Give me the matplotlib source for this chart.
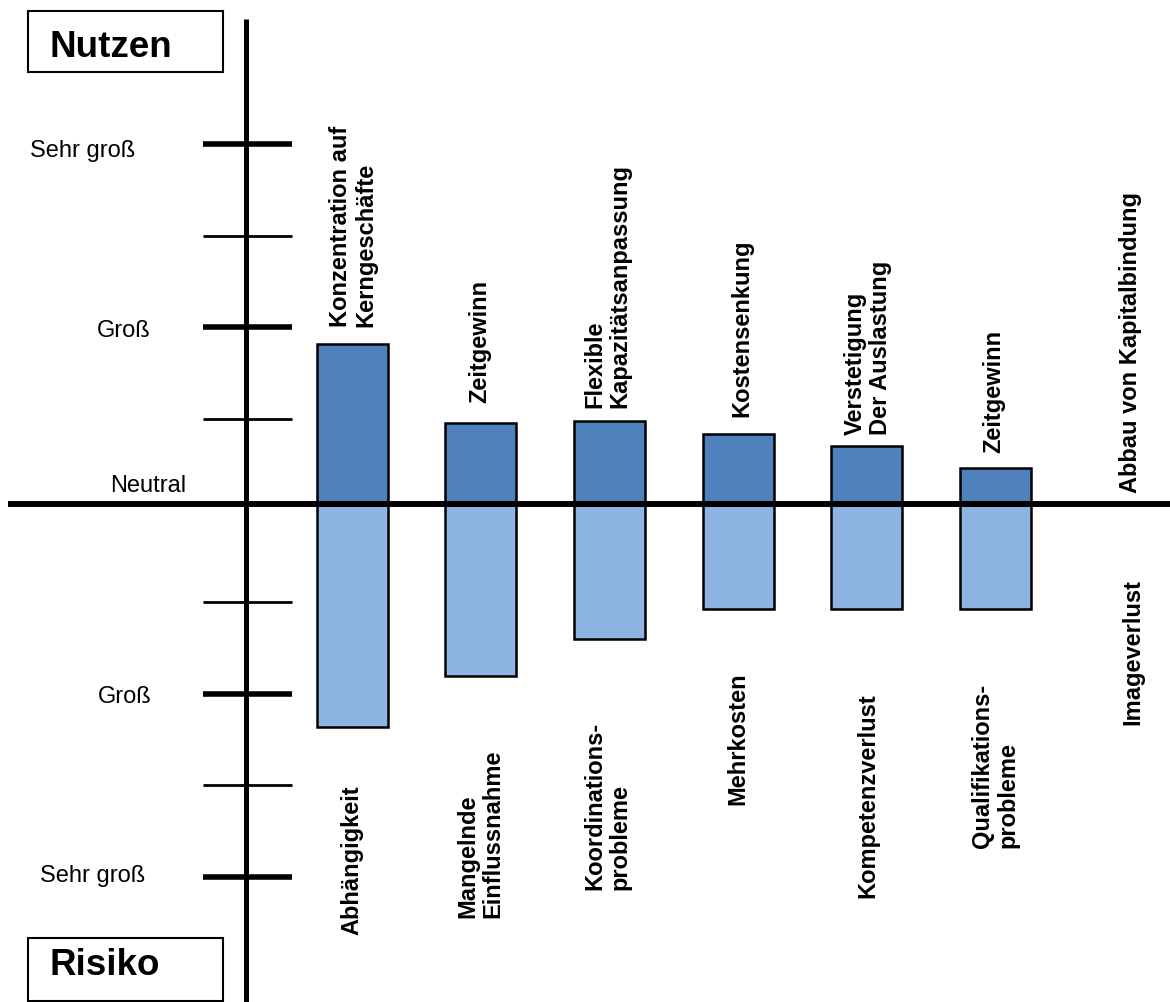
import matplotlib
matplotlib.use("Agg")
import matplotlib.pyplot as plt
from matplotlib.patches import Rectangle

# ---------------- data ----------------
nutzen_labels = ["Konzentration auf\nKerngeschäfte", "Zeitgewinn",
                 "Flexible\nKapazitätsanpassung", "Kostensenkung",
                 "Verstetigung\nDer Auslastung", "Zeitgewinn",
                 "Abbau von Kapitalbindung"]
risiko_labels = ["Abhängigkeit", "Mangelnde\nEinflussnahme",
                 "Koordinations-\nprobleme", "Mehrkosten",
                 "Kompetenzverlust", "Qualifikations-\nprobleme",
                 "Imageverlust"]
nutzen_values = [1.75, 0.885, 0.905, 0.765, 0.635, 0.395]
risiko_values = [2.43, 1.88, 1.475, 1.15, 1.15, 1.15]
level_labels = ["Sehr groß", "Groß", "Neutral", "Groß", "Sehr groß"]
level_values = [4, 2, 0, -2, -4]
tick_values_major = [4, 2, -2, -4]
tick_values_minor = [3, 1, -1, -3]

# ---------------- layout ----------------
W, H = 1170, 1003
Y0, STEP = 505.0, 91.6
X0, XS = 352.0, 128.7
TICK_OFFSET = (505.0 - 511.5) / STEP  # tick grid drawn slightly below the axis line


def dx(px):
    return (px - X0) / XS


def dy(py):
    return (Y0 - py) / STEP


FONT = "Liberation Sans"
top_label_pos = [(353, 327), (480, 403), (607, 408), (742, 417), (868, 435), (994, 453), (1131, 493)]
bottom_label_pos = [(352, 935), (480, 918), (607, 890), (738, 805), (868, 898), (995, 848), (1133, 725)]
level_label_pos = [(30, 157), (97, 337), (110, 492), (98, 703), (40, 882)]

fig = plt.figure(figsize=(W / 100, H / 100), dpi=100)
ax = fig.add_axes([0, 0, 1, 1])
ax.set_xlim(dx(0), dx(W))
ax.set_ylim(dy(H), dy(0))
ax.axis("off")

bw = 71 / XS
dark = "#4F81BD"
light = "#8EB4E3"
xs = list(range(len(nutzen_values)))
ax.bar(xs, nutzen_values, width=bw, bottom=0, color=dark, edgecolor="black", linewidth=1.8, zorder=2)
ax.bar(xs, [-v for v in risiko_values], width=bw, bottom=0, color=light, edgecolor="black", linewidth=1.8, zorder=2)

# axes lines
ax.plot([dx(8), dx(W)], [0, 0], color="black", lw=4.3, zorder=5, solid_capstyle="butt")
ax.plot([dx(246), dx(246)], [dy(20), dy(H + 5)], color="black", lw=3.6, zorder=5, solid_capstyle="butt")
for v in tick_values_major:
    ax.plot([dx(203), dx(292)], [v + TICK_OFFSET] * 2, color="black", lw=4.0, zorder=5, solid_capstyle="butt")
for v in tick_values_minor:
    ax.plot([dx(203), dx(292)], [v + TICK_OFFSET] * 2, color="black", lw=2.0, zorder=5, solid_capstyle="butt")

# level labels
for lab, (px, py) in zip(level_labels, level_label_pos):
    ax.text(dx(px), dy(py), lab, fontsize=17, family=FONT, ha="left", va="baseline")

# category labels
for lab, (px, py) in zip(nutzen_labels, top_label_pos):
    ax.text(dx(px), dy(py), lab, fontsize=17, family=FONT, fontweight="bold",
            rotation=90, ha="center", va="bottom", multialignment="left", linespacing=1.12)
for lab, (px, py) in zip(risiko_labels, bottom_label_pos):
    ax.text(dx(px), dy(py), lab, fontsize=17, family=FONT, fontweight="bold",
            rotation=90, ha="center", va="bottom", multialignment="left", linespacing=1.12)

# boxes
for title, (bx0, by0, bx1, by1), base in [("Nutzen", (28, 12, 223, 73), 57),
                                           ("Risiko", (28, 939, 223, 1002), 975)]:
    ax.add_patch(Rectangle((dx(bx0), dy(by1)), dx(bx1) - dx(bx0), dy(by0) - dy(by1),
                           fill=False, edgecolor="black", lw=1.5, zorder=6))
    ax.text(dx(50), dy(base), title, fontsize=26.5, family=FONT, fontweight="bold",
            ha="left", va="baseline", zorder=7)

fig.savefig("out.png", dpi=100)
